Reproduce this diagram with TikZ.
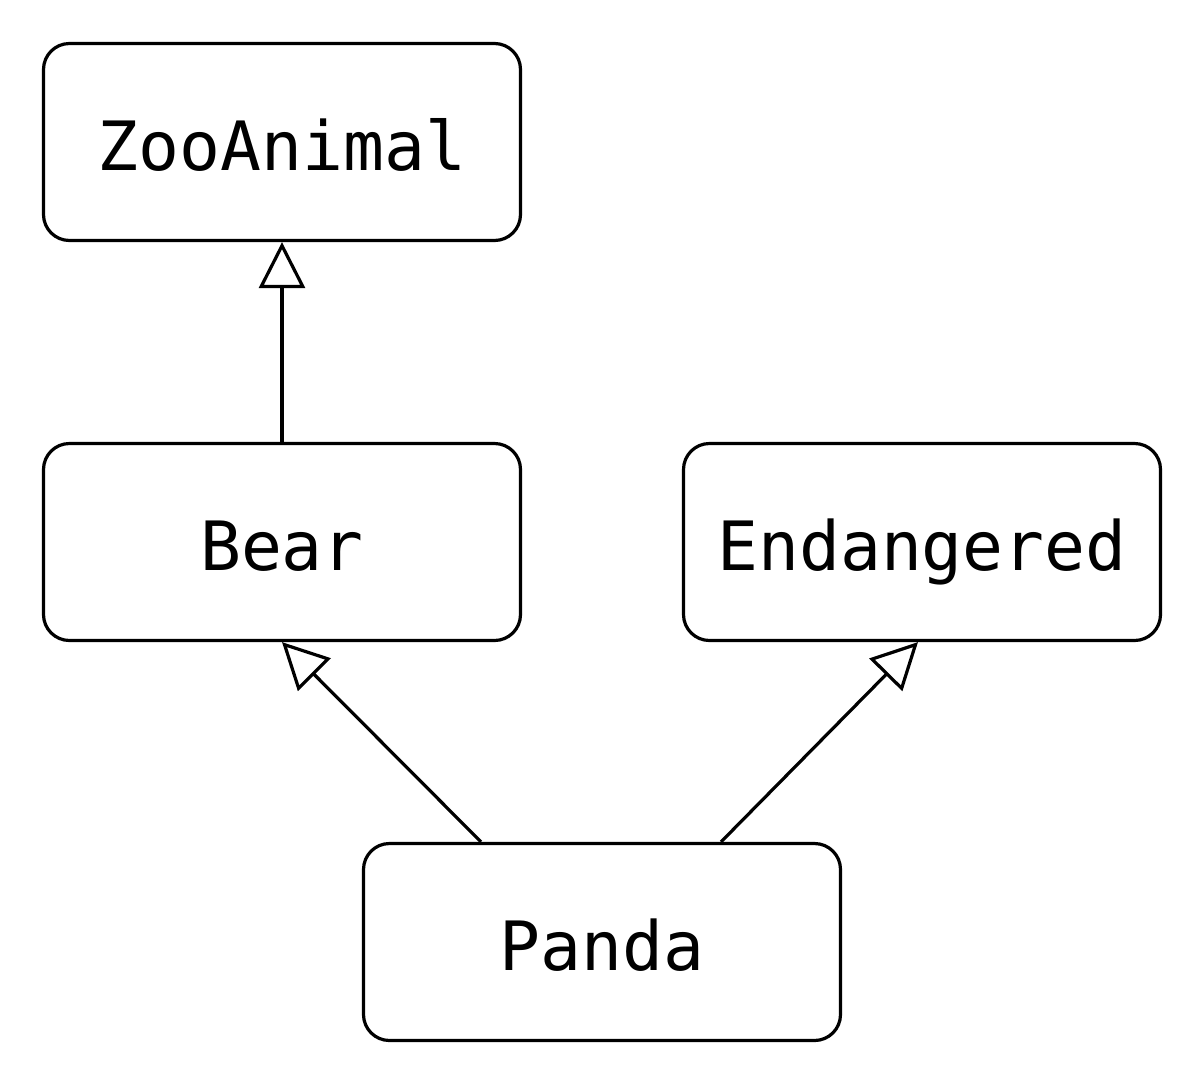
\documentclass[tikz,border=0pt]{standalone}
\usepackage{fontspec}
\setmonofont{DejaVu Sans Mono}
\usetikzlibrary{arrows.meta}
\begin{document}
\begin{tikzpicture}[x=1pt,y=-1pt,
  cls/.style={draw, line width=3.2pt, rounded corners=26pt, minimum width=477pt, minimum height=197pt, inner sep=0pt, text height=56pt, text depth=0pt, font=\fontsize{68}{72}\selectfont\ttfamily},
  inherit/.style={line width=3.2pt, -{Triangle[open, length=46pt, width=46pt, line width=3.2pt]}}]
\useasboundingbox (0,0) rectangle (1204,1088);
\node[cls] (zoo) at (282,142) {ZooAnimal};
\node[cls] (bear) at (282,542) {Bear};
\node[cls] (end) at (922,542) {Endangered};
\node[cls] (panda) at (602,942) {Panda};
\draw[inherit] (bear.north) -- (zoo.south);
\draw[inherit] ([xshift=-121pt]panda.north) -- (bear.south);
\draw[inherit] ([xshift=119pt]panda.north) -- ([xshift=-4pt]end.south);
\end{tikzpicture}
\end{document}
